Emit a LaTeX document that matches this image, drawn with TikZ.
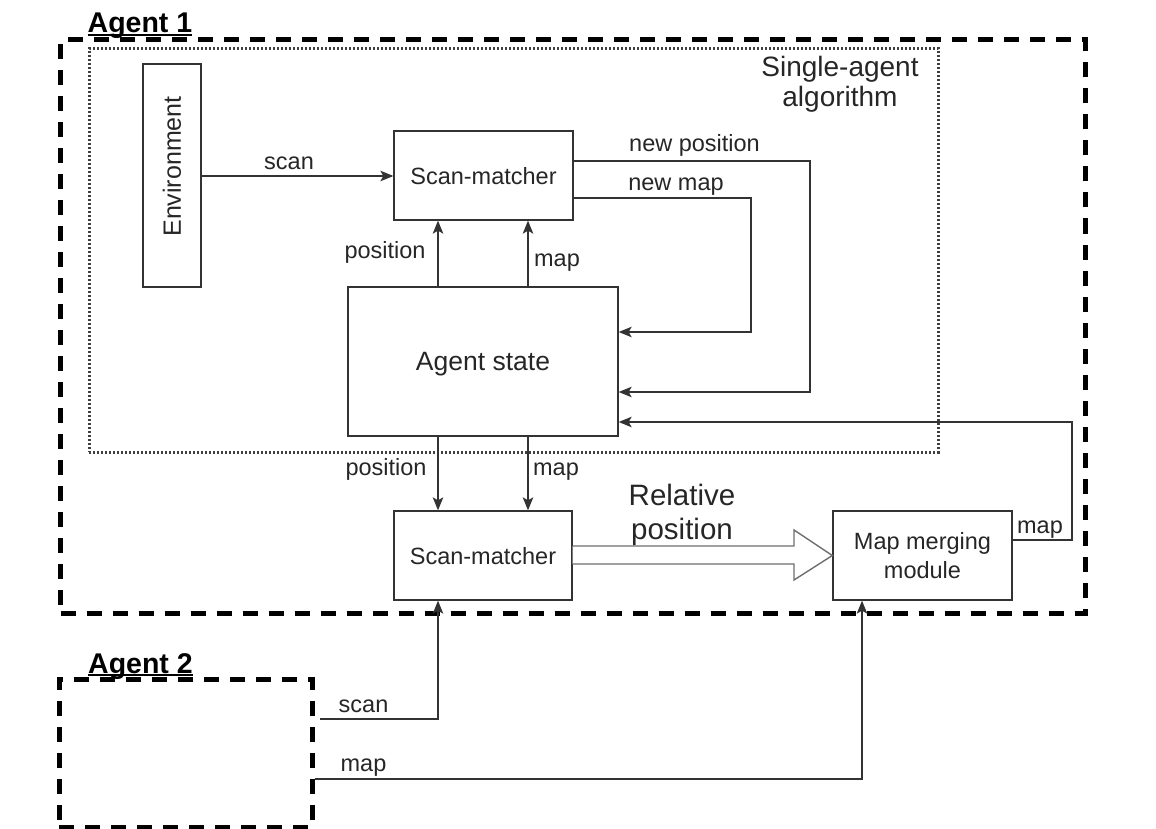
\documentclass[tikz,border=0pt]{standalone}
\usepackage{fontspec}
\setmainfont{Liberation Sans}
\usetikzlibrary{arrows.meta}
\definecolor{ink}{HTML}{333333}
\definecolor{txt}{HTML}{262626}
\definecolor{dotc}{HTML}{404040}
\definecolor{hollowc}{HTML}{6E6E6E}
\begin{document}
\begin{tikzpicture}[x=1pt,y=-1pt,
  every node/.style={text=txt, font=\fontsize{23.5}{28}\selectfont},
  block/.style={draw=ink, line width=1.3pt, inner sep=0pt, text depth=0pt},
  lbl/.style={anchor=base, inner sep=0pt},
  link/.style={draw=ink, line width=1.3pt},
  arr/.style={link, -{Stealth[length=13pt,width=10.5pt,inset=3pt]}},
  agentbox/.style={draw=black, line width=5pt, dash pattern=on 15pt off 11pt, inner sep=0pt},
  algbox/.style={draw=dotc, line width=3pt, dash pattern=on 2pt off 2pt, inner sep=0pt},
  hollow/.style={draw=hollowc, line width=1.4pt, fill=white, line join=miter},
  agentlbl/.style={anchor=base, inner sep=0pt, text=black,
    font=\fontsize{28.5}{34}\selectfont\bfseries}
]
\useasboundingbox (0,0) rectangle (1156,829);

% agent frames and the single-agent algorithm frame
\node[agentbox, minimum width=1024.5pt, minimum height=573pt] (ag1) at (572.75,326.5) {};
\node[agentbox, minimum width=253pt, minimum height=148pt] (ag2) at (185.5,753) {};
\node[algbox, minimum width=849pt, minimum height=403.5pt] (alg) at (513.5,250.25) {};

\node[agentlbl] (ag1lbl) at (140,33) {Agent 1};
\draw[line width=2pt, black] ([yshift=-2pt]ag1lbl.base west) -- ([yshift=-2pt]ag1lbl.base east);
\node[agentlbl] (ag2lbl) at (140.5,673) {Agent 2};
\draw[line width=2pt, black] ([yshift=-2pt]ag2lbl.base west) -- ([yshift=-2pt]ag2lbl.base east);

\node[align=center, font=\fontsize{28}{30}\selectfont] (algtxt) at (840,84.5) {Single-agent\\algorithm};

% blocks
\node[block, minimum width=58pt, minimum height=223pt, font=\fontsize{25}{30}\selectfont]
  (env) at (172,175.5) {\raisebox{18pt}{\rotatebox{90}{Environment}}};
\node[block, minimum width=179pt, minimum height=89pt] (sm1) at (483.5,175.5) {Scan-matcher};
\node[block, minimum width=270pt, minimum height=149pt, font=\fontsize{26.5}{30}\selectfont]
  (state) at (483,361.5) {Agent state};
\node[block, minimum width=178pt, minimum height=89pt] (sm2) at (483,555.5) {Scan-matcher};
\node[block, minimum width=179pt, minimum height=89pt, align=center,
  font=\fontsize{23.5}{29}\selectfont] (mm) at (922.5,555.5) {Map merging\\module};

% helper coordinates for the vertical connectors
\coordinate (xl) at (438,0);
\coordinate (xr) at (528,0);
\coordinate (xm) at (862,0);
\coordinate (npc) at (810,161);
\coordinate (nmc) at (751,198);
\coordinate (mbc) at (1072,540);
\coordinate (scs) at (320,719);

% connectors inside the single-agent loop
\draw[arr] (env.east |- 0,176) -- (sm1.west |- 0,176);
\draw[arr] (state.north -| xl) -- (sm1.south -| xl);
\draw[arr] (state.north -| xr) -- (sm1.south -| xr);
\draw[arr] (sm1.east |- npc) -- (npc) -- (npc |- 0,392) -- (state.east |- 0,392);
\draw[arr] (sm1.east |- nmc) -- (nmc) -- (nmc |- 0,332) -- (state.east |- 0,332);

% connectors towards the inter-agent scan-matcher and the map merger
\draw[arr] (state.south -| xl) -- (sm2.north -| xl);
\draw[arr] (state.south -| xr) -- (sm2.north -| xr);
\draw[arr] (mm.east |- mbc) -- (mbc) -- (mbc |- 0,422) -- (state.east |- 0,422);
\draw[arr] (scs) -- (scs -| xl) -- (sm2.south -| xl);
\draw[arr] (ag2.east |- 0,779) -- (xm |- 0,779) -- (mm.south -| xm);

% hollow arrow carrying the relative position
\draw[hollow] (sm2.east |- 0,546) -- (794,546) -- (794,530) -- (mm.west)
  -- (794,580) -- (794,564) -- (sm2.east |- 0,564);
\node[align=center, font=\fontsize{29.5}{34}\selectfont] (reltxt) at (682,515) {Relative\\position};

% connector labels
\node[lbl] (l1) at (289,170) {scan};
\node[lbl] (l2) at (385,258) {position};
\node[lbl] (l3) at (557,266) {map};
\node[lbl] (l4) at (694.5,152) {new position};
\node[lbl] (l5) at (676,190) {new map};
\node[lbl] (l6) at (386,475) {position};
\node[lbl] (l7) at (556,475) {map};
\node[lbl] (l8) at (1040,533) {map};
\node[lbl] (l9) at (363.5,712) {scan};
\node[lbl] (l10) at (363.5,771) {map};
\end{tikzpicture}
\end{document}
